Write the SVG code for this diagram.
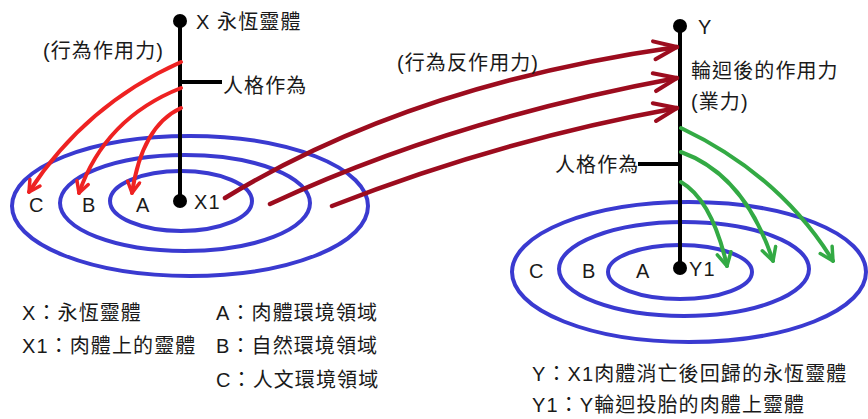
<svg xmlns="http://www.w3.org/2000/svg" width="868" height="419" viewBox="0 0 868 419">
<style>
text{font-family:"Liberation Sans","Noto Sans CJK TC",sans-serif;font-size:20px;fill:#1a1a1a;letter-spacing:1.1px}
.ring{fill:none;stroke:#3a3ad0;stroke-width:4}
.stem{stroke:#000;stroke-width:4;fill:none}
.red{fill:none;stroke:#ee2222;stroke-width:4;stroke-linecap:round}
.dred{fill:none;stroke:#9c0c1e;stroke-width:4.5;stroke-linecap:round}
.green{fill:none;stroke:#33aa44;stroke-width:4;stroke-linecap:round}
</style>
<defs>
<marker id="mRed" markerUnits="userSpaceOnUse" viewBox="-14 -8 16 16" markerWidth="16" markerHeight="16" refX="0" refY="0" orient="auto">
<path d="M-11,-6 L0,0 L-11,6" fill="none" stroke="#ee2222" stroke-width="3.5" stroke-linecap="round" stroke-linejoin="round"/>
</marker>
<marker id="mDred" markerUnits="userSpaceOnUse" viewBox="-26 -12 28 24" markerWidth="28" markerHeight="24" refX="0" refY="0" orient="auto">
<path d="M-23,-9 L0,0 L-23,9" fill="none" stroke="#9c0c1e" stroke-width="4" stroke-linecap="round" stroke-linejoin="round"/>
</marker>
<marker id="mGreen" markerUnits="userSpaceOnUse" viewBox="-16 -9 18 18" markerWidth="18" markerHeight="18" refX="0" refY="0" orient="auto">
<path d="M-13,-7 L0,0 L-13,7" fill="none" stroke="#33aa44" stroke-width="3.5" stroke-linecap="round" stroke-linejoin="round"/>
</marker>
</defs>
<rect width="868" height="419" fill="#fff"/>

<g id="left-rings">
<ellipse class="ring" cx="190" cy="206" rx="178" ry="70"/>
<ellipse class="ring" cx="185" cy="203" rx="125" ry="48"/>
<ellipse class="ring" cx="181" cy="201" rx="71" ry="30"/>
<text x="29" y="212">C</text>
<text x="82" y="212">B</text>
<text x="136" y="212">A</text>
</g>

<g id="right-rings">
<ellipse class="ring" cx="689" cy="272" rx="177" ry="70"/>
<ellipse class="ring" cx="684" cy="269" rx="125" ry="47"/>
<ellipse class="ring" cx="680" cy="272" rx="72" ry="27"/>
<text x="529" y="278">C</text>
<text x="582" y="278">B</text>
<text x="636" y="278">A</text>
</g>

<g id="node-X">
<line class="stem" x1="180" y1="21" x2="180" y2="201"/>
<circle cx="180" cy="21" r="7"/>
<circle cx="180" cy="201" r="7"/>
<text x="196" y="29">X 永恆靈體</text>
<text x="194" y="209">X1</text>
<line class="stem" x1="180" y1="82" x2="222" y2="82"/>
<text x="223" y="93">人格作為</text>
<text x="43" y="58">(行為作用力)</text>
</g>

<g id="node-Y">
<line class="stem" x1="680" y1="26" x2="680" y2="268"/>
<circle cx="680" cy="26" r="7"/>
<circle cx="680" cy="268" r="7"/>
<text x="698" y="34">Y</text>
<text x="689" y="276">Y1</text>
<text x="691" y="78">輪迴後的作用力</text>
<text x="691" y="109">(業力)</text>
<line class="stem" x1="638" y1="164" x2="680" y2="164"/>
<text x="555" y="172">人格作為</text>
</g>

<g id="connectors">
<path class="red" d="M181,62 Q85,105 29,192" marker-end="url(#mRed)"/>
<path class="red" d="M181,88 Q105,118 79,193" marker-end="url(#mRed)"/>
<path class="red" d="M181,108 Q142,126 132,193" marker-end="url(#mRed)"/>
<path class="dred" d="M225,198 Q410,85 677,47" marker-end="url(#mDred)"/>
<path class="dred" d="M270,204 Q450,120 677,78" marker-end="url(#mDred)"/>
<path class="dred" d="M332,206 Q500,140 677,108" marker-end="url(#mDred)"/>
<path class="green" d="M681,128 Q780,175 833,261" marker-end="url(#mGreen)"/>
<path class="green" d="M681,152 Q745,175 773,261" marker-end="url(#mGreen)"/>
<path class="green" d="M681,182 Q712,200 727,266" marker-end="url(#mGreen)"/>
<text x="397" y="70">(行為反作用力)</text>
</g>

<g id="legend">
<text x="22" y="320">X：永恆靈體</text>
<text x="22" y="353">X1：肉體上的靈體</text>
<text x="216" y="320">A：肉體環境領域</text>
<text x="216" y="353">B：自然環境領域</text>
<text x="216" y="387">C：人文環境領域</text>
<text x="532" y="381">Y：X1肉體消亡後回歸的永恆靈體</text>
<text x="532" y="412">Y1：Y輪迴投胎的肉體上靈體</text>
</g>
</svg>
